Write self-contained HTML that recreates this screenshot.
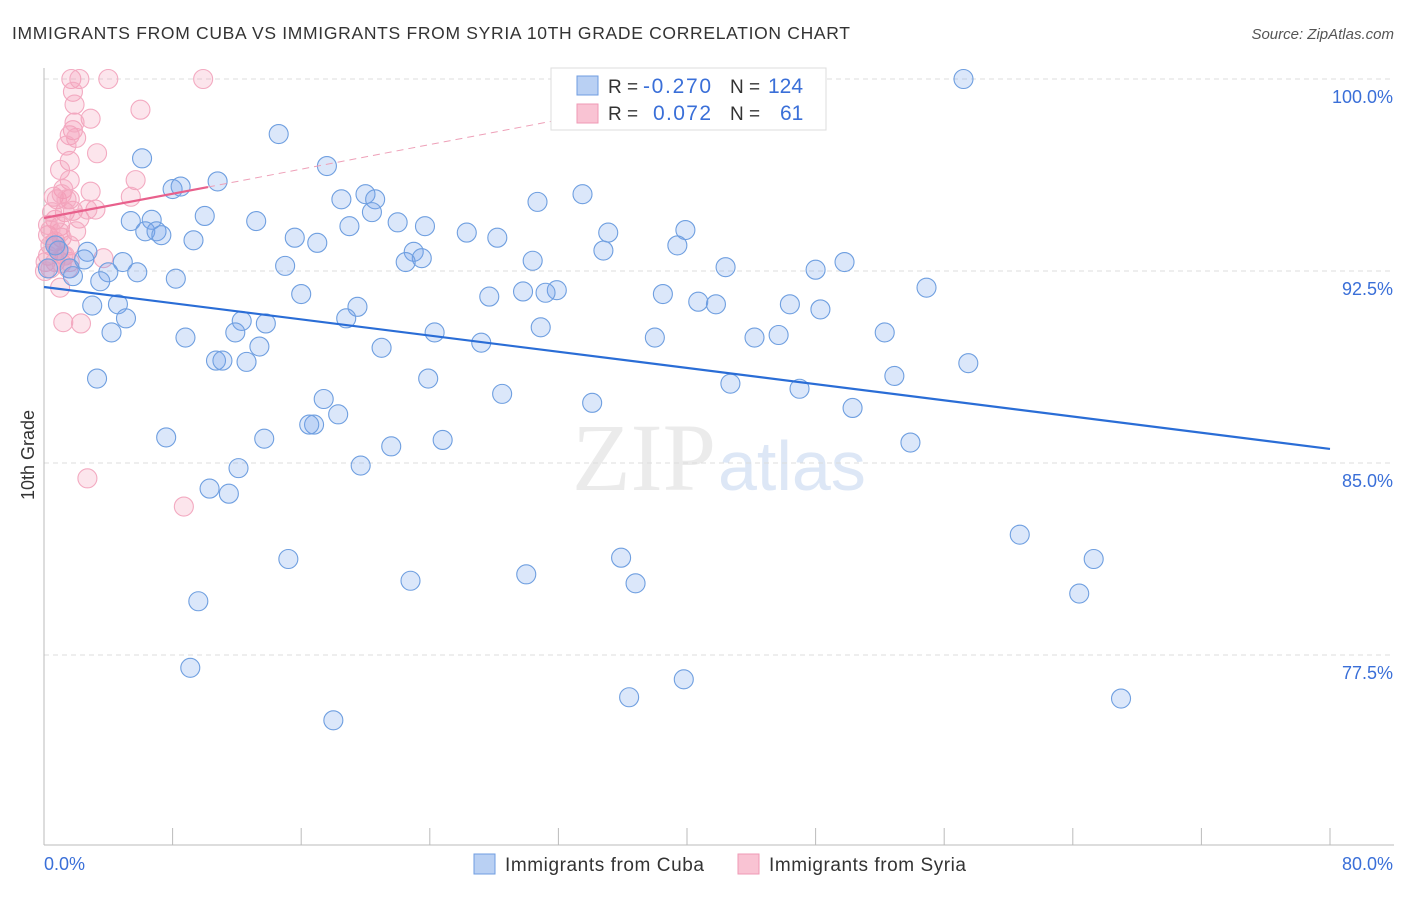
<!DOCTYPE html>
<html><head><meta charset="utf-8"><style>
body{margin:0;background:#fff;font-family:"Liberation Sans",sans-serif;}
</style></head><body>
<svg id="c" width="1406" height="892" xmlns="http://www.w3.org/2000/svg">
<text x="12" y="39" font-size="17.5" fill="#333" textLength="838" lengthAdjust="spacing">IMMIGRANTS FROM CUBA VS IMMIGRANTS FROM SYRIA 10TH GRADE CORRELATION CHART</text>
<text x="1394" y="39" font-size="15" fill="#555" font-style="italic" text-anchor="end">Source: ZipAtlas.com</text>
<text x="716" y="490" font-size="96" fill="#ebebeb" font-family="Liberation Serif,serif" text-anchor="end">ZIP</text>
<text x="718" y="490" font-size="70" fill="#dde7f6">atlas</text>
<g id="grid"></g>
<g id="axes"></g>
<g id="marks"></g>
<text transform="translate(34,455) rotate(-90)" font-size="18" fill="#333" text-anchor="middle">10th Grade</text>
<g>
<rect x="551" y="68" width="275" height="62" fill="#fff" stroke="#ddd"/>
<rect x="577" y="76" width="21" height="19" fill="#b9d0f3" stroke="#6f9de0"/>
<rect x="577" y="104" width="21" height="19" fill="#f9c3d3" stroke="#ef9ab5"/>
<text x="608" y="93" font-size="19" fill="#333">R =</text>
<text x="643" y="93" font-size="21" fill="#3a6fd8" textLength="68">-0.270</text>
<text x="730" y="93" font-size="19" fill="#333">N =</text>
<text x="768" y="93" font-size="21" fill="#3a6fd8">124</text>
<text x="608" y="120" font-size="19" fill="#333">R =</text>
<text x="653" y="120" font-size="21" fill="#3a6fd8" textLength="58">0.072</text>
<text x="730" y="120" font-size="19" fill="#333">N =</text>
<text x="780" y="120" font-size="21" fill="#3a6fd8">61</text>
</g>
<g><rect x="474" y="854" width="21" height="20" fill="#b9d0f3" stroke="#6f9de0"/><text x="505" y="871" font-size="19" fill="#333" textLength="199">Immigrants from Cuba</text></g>
<g><rect x="738" y="854" width="21" height="20" fill="#f9c3d3" stroke="#ef9ab5"/><text x="769" y="871" font-size="19" fill="#333" textLength="197">Immigrants from Syria</text></g>
</svg>
<script>
const yTicks=[100,92.5,85,77.5];
const yTickLabels=["100.0%","92.5%","85.0%","77.5%"];
const xTickLabels=["0.0%","80.0%"];
const cubaX=[57.2,14.6,6.1,17.6,10.8,8.0,8.5,20.0,20.6,18.5,33.5,30.7,20.4,10.0,5.4,6.7,13.2,22.0,23.7,6.3,7.0,7.3,26.3,35.1,39.9,28.2,15.6,9.3,17.0,19.0,39.4,34.8,23.0,23.5,22.5,30.4,49.8,2.7,0.9,2.5,1.6,4.9,15.0,42.4,48.0,1.8,5.8,4.0,8.2,3.5,54.9,31.9,31.2,29.8,27.7,16.0,38.5,40.7,41.8,46.4,48.3,19.5,3.0,4.6,5.1,18.8,13.8,12.3,30.9,24.3,11.9,4.2,8.8,38.0,44.2,45.7,52.3,13.4,27.2,21.0,10.7,11.1,12.6,57.5,3.3,23.9,42.7,52.9,47.0,28.5,17.4,50.3,18.3,34.1,16.8,16.5,7.6,13.7,24.8,21.6,53.9,19.7,12.1,10.3,11.5,60.7,15.2,35.9,65.3,22.8,30.0,36.8,64.4,9.6,9.1,39.8,36.4,67.0,18.0,0.25,0.7];
const cubaY=[100,97.85,96.9,96.6,96.0,95.7,95.8,95.5,95.3,95.3,95.5,95.2,94.8,94.65,94.45,94.5,94.45,94.4,94.25,94.05,94.05,93.9,94.0,94.0,94.1,93.8,93.8,93.7,93.6,94.25,93.5,93.3,93.25,93.0,92.85,92.9,92.85,93.25,93.3,92.95,92.6,92.85,92.7,92.65,92.55,92.3,92.45,92.45,92.2,92.1,91.85,91.75,91.65,91.7,91.5,91.6,91.6,91.3,91.2,91.2,91.0,91.1,91.15,91.2,90.65,90.65,90.45,90.55,90.3,90.1,90.1,90.1,89.9,89.9,89.9,90.0,90.1,89.55,89.7,89.5,89.0,89.0,88.95,88.9,88.3,88.3,88.1,88.4,87.9,87.7,87.5,87.15,86.9,87.35,86.5,86.5,86.0,85.95,85.9,85.65,85.8,84.9,84.8,84.0,83.8,82.2,81.25,81.3,81.25,80.4,80.65,80.3,79.9,79.6,77.0,76.55,75.85,75.8,74.95,92.6,93.5];
const syriaX=[1.7,2.2,4.0,9.9,1.8,1.9,6.0,2.9,1.8,1.6,2.0,3.3,1.4,1.6,5.7,1.0,1.6,1.2,2.9,5.4,0.6,0.8,1.6,1.3,3.2,1.8,2.2,0.7,1.0,2.0,0.25,1.1,0.7,0.4,1.6,0.9,0.25,1.3,0.1,0.7,1.1,0.4,1.6,1.5,3.7,1.0,1.2,2.3,2.7,8.7,1.0,0.25,0.5,1.1,1.4,1.2,0.75,0.4,1.9,2.7,0.06];
const syriaY=[100,100,100,100,99.5,99.0,98.8,98.45,98.0,97.8,97.7,97.1,97.4,96.8,96.05,96.45,96.05,95.7,95.6,95.4,95.4,95.3,95.3,94.8,94.9,94.85,94.55,94.5,94.25,94.05,93.9,93.8,93.65,93.5,93.5,93.3,93.1,93.1,92.85,92.85,92.8,92.6,92.85,92.6,93.0,91.85,90.5,90.45,84.4,83.3,94.0,94.3,94.8,95.5,95.3,93.1,93.5,94.1,98.3,94.9,92.5];
const cubaTrend=[91.875,85.55];
const syriaTrend=[94.57,95.78,98.4];
const syriaTrendX=[0,10.2,32];

const NS="http://www.w3.org/2000/svg";
const X=v=>44+v*16.075;
const Y=v=>79+(100-v)*25.6;
function mk(tag,attrs,parent){const e=document.createElementNS(NS,tag);for(const k in attrs)e.setAttribute(k,attrs[k]);parent.appendChild(e);return e;}
const grid=document.getElementById('grid'),axes=document.getElementById('axes'),marks=document.getElementById('marks');
yTicks.forEach((t,i)=>{
  const l=mk('line',{x1:44,x2:1394,y1:Y(t),y2:Y(t),stroke:'#dcdcdc','stroke-dasharray':'5,4'},grid);
  
  
  const tx=mk('text',{x:1393,y:Y(t)+24,'font-size':18,fill:'#3a6fd8','text-anchor':'end'},axes);
  tx.textContent=yTickLabels[i];
  
  
});
const ya=mk('line',{x1:44,x2:44,y1:68,y2:845,stroke:'#bbb'},axes);


const xa=mk('line',{x1:44,x2:1394,y1:845,y2:845,stroke:'#bbb'},axes);


for(let v=0;v<=80;v+=8){
  const tk=mk('line',{x1:X(v),x2:X(v),y1:828,y2:845,stroke:'#bbb'},axes);
  
  
}
const xl0=mk('text',{x:44,y:870,'font-size':18,fill:'#3a6fd8'},axes);xl0.textContent=xTickLabels[0];


const xl1=mk('text',{x:1393,y:870,'font-size':18,fill:'#3a6fd8','text-anchor':'end'},axes);xl1.textContent=xTickLabels[1];



syriaX.forEach((v,i)=>{
  const c=mk('circle',{cx:X(v),cy:Y(syriaY[i]),r:9.5,fill:'rgba(244,150,180,0.25)',stroke:'#f3aac1','stroke-width':1.1},marks);
  
  
});
cubaX.forEach((v,i)=>{
  const c=mk('circle',{cx:X(v),cy:Y(cubaY[i]),r:9.5,fill:'rgba(110,160,235,0.25)',stroke:'#6f9fe0','stroke-width':1.1},marks);
  
  
});
const bt=mk('line',{x1:X(0),y1:Y(cubaTrend[0]),x2:X(80),y2:Y(cubaTrend[1]),stroke:'#2a6dd6','stroke-width':2.2},marks);


const pt=mk('line',{x1:X(syriaTrendX[0]),y1:Y(syriaTrend[0]),x2:X(syriaTrendX[1]),y2:Y(syriaTrend[1]),stroke:'#e8608c','stroke-width':2.2},marks);


const pd=mk('line',{x1:X(syriaTrendX[1]),y1:Y(syriaTrend[1]),x2:X(syriaTrendX[2]),y2:Y(syriaTrend[2]),stroke:'#eea0b8','stroke-width':1,'stroke-dasharray':'7,5'},marks);


</script>
</body></html>
